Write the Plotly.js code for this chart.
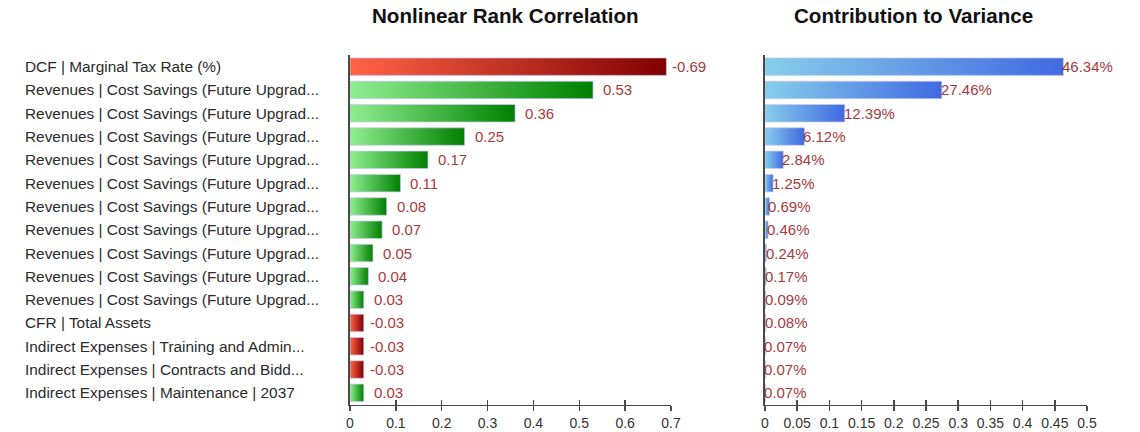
<!DOCTYPE html>
<html>
<head>
<meta charset="utf-8">
<script src="https://cdn.plot.ly/plotly-3.0.1.min.js"></script>
<style>
  html, body { margin: 0; padding: 0; background: #fff; }
  #chart { width: 1140px; height: 432px; }
</style>
</head>
<body>
<div id="chart"></div>
<script>
// ---------- data ----------
const labels = [
  "DCF | Marginal Tax Rate (%)",
  "Revenues | Cost Savings (Future Upgrad...",
  "Revenues | Cost Savings (Future Upgrad...",
  "Revenues | Cost Savings (Future Upgrad...",
  "Revenues | Cost Savings (Future Upgrad...",
  "Revenues | Cost Savings (Future Upgrad...",
  "Revenues | Cost Savings (Future Upgrad...",
  "Revenues | Cost Savings (Future Upgrad...",
  "Revenues | Cost Savings (Future Upgrad...",
  "Revenues | Cost Savings (Future Upgrad...",
  "Revenues | Cost Savings (Future Upgrad...",
  "CFR | Total Assets",
  "Indirect Expenses | Training and Admin...",
  "Indirect Expenses | Contracts and Bidd...",
  "Indirect Expenses | Maintenance | 2037"
];
const rankCorrelation = [-0.69, 0.53, 0.36, 0.25, 0.17, 0.11, 0.08, 0.07, 0.05, 0.04, 0.03, -0.03, -0.03, -0.03, 0.03];
const varianceContribution = [0.4634, 0.2746, 0.1239, 0.0612, 0.0284, 0.0125, 0.0069, 0.0046, 0.0024, 0.0017, 0.0009, 0.0008, 0.0007, 0.0007, 0.0007];

const corrTickVals = [0, 0.1, 0.2, 0.3, 0.4, 0.5, 0.6, 0.7];
const corrTickText = ["0", "0.1", "0.2", "0.3", "0.4", "0.5", "0.6", "0.7"];
const varTickVals = [0, 0.05, 0.1, 0.15, 0.2, 0.25, 0.3, 0.35, 0.4, 0.45, 0.5];
const varTickText = ["0", "0.05", "0.1", "0.15", "0.2", "0.25", "0.3", "0.35", "0.4", "0.45", "0.5"];

const titleLeft = "Nonlinear Rank Correlation";
const titleRight = "Contribution to Variance";

// ---------- styling ----------
const FONT = "Liberation Sans, Arial, sans-serif";
const valueColor = "#a83a3a";
const labelColor = "#2b2b2b";
const axisColor = "#4a4a4a";
const W = 1140, H = 432;

const rowIdx = labels.map((_, i) => i);
const absCorr = rankCorrelation.map(v => Math.abs(v));

const barLine = { color: "rgba(200,200,240,0.9)", width: 0.8 };

const data = [
  {
    type: "bar", orientation: "h",
    x: absCorr, y: rowIdx,
    xaxis: "x", yaxis: "y",
    marker: { color: rankCorrelation.map(v => v < 0 ? "#c0392b" : "#3cb043"), line: barLine },
    hoverinfo: "none"
  },
  {
    type: "bar", orientation: "h",
    x: varianceContribution, y: rowIdx,
    xaxis: "x2", yaxis: "y2",
    marker: { color: "#6a9be6", line: barLine },
    hoverinfo: "none"
  },
  { type: "scatter", x: [], y: [], xaxis: "x3", yaxis: "y", hoverinfo: "none", showlegend: false },
  { type: "scatter", x: [], y: [], xaxis: "x4", yaxis: "y2", hoverinfo: "none", showlegend: false }
];

const xDomL = [350 / W, 671 / W];
const xDomR = [765 / W, 1087 / W];
const yDom = [1 - 404.5 / H, 1 - 55 / H];

const yCommon = {
  domain: yDom, range: [14.5, -0.5], showline: true, linecolor: axisColor, linewidth: 2,
  ticks: "", showticklabels: false, showgrid: false, zeroline: false, fixedrange: true
};
function xCommon(dom, range, tv, tt, anchor) {
  return {
    domain: dom, range: range, anchor: anchor,
    tickmode: "array", tickvals: tv, ticktext: tt,
    ticks: "outside", ticklen: 5, tickwidth: 1.5, tickcolor: axisColor,
    showline: true, linecolor: axisColor, linewidth: 1.5,
    showgrid: false, zeroline: false, fixedrange: true,
    tickfont: { family: FONT, size: 14, color: "#333" }
  };
}
function xOverlay(over, range, tv, anchor) {
  return {
    overlaying: over, anchor: anchor, range: range,
    tickmode: "array", tickvals: tv,
    ticks: "inside", ticklen: 5, tickwidth: 1.5, tickcolor: axisColor,
    showticklabels: false, showline: false, showgrid: false, zeroline: false, fixedrange: true
  };
}

const annotations = [];
// titles
annotations.push({ xref: "paper", yref: "paper", x: 505 / W, y: 1 - 16 / H, xanchor: "center", yanchor: "middle",
  text: "<b>" + titleLeft + "</b>", showarrow: false, font: { family: FONT, size: 20.6, color: "#111" } });
annotations.push({ xref: "paper", yref: "paper", x: 913 / W, y: 1 - 16 / H, xanchor: "center", yanchor: "middle",
  text: "<b>" + titleRight + "</b>", showarrow: false, font: { family: FONT, size: 20.6, color: "#111" } });
// category labels (left aligned)
labels.forEach((t, i) => annotations.push({
  xref: "paper", yref: "y", x: 23 / W, y: i, xanchor: "left", yanchor: "middle",
  text: t, showarrow: false, font: { family: FONT, size: 15.4, color: labelColor }
}));
// value labels left
rankCorrelation.forEach((v, i) => annotations.push({
  xref: "x", yref: "y", x: Math.abs(v), y: i, xanchor: "left", yanchor: "middle",
  xshift: v < 0 ? 4 : 8, text: v.toFixed(2), showarrow: false,
  font: { family: FONT, size: 15, color: valueColor }
}));
// value labels right
varianceContribution.forEach((v, i) => annotations.push({
  xref: "x2", yref: "y2", x: v, y: i, xanchor: "left", yanchor: "middle",
  xshift: -3, text: (v * 100).toFixed(2) + "%", showarrow: false,
  font: { family: FONT, size: 15, color: valueColor }
}));

const layout = {
  width: W, height: H,
  margin: { l: 0, r: 0, t: 0, b: 0 },
  paper_bgcolor: "#fff", plot_bgcolor: "#fff",
  showlegend: false, bargap: 0.25,
  font: { family: FONT },
  xaxis: xCommon(xDomL, [0, 0.7], corrTickVals, corrTickText, "y"),
  xaxis2: xCommon(xDomR, [0, 0.5], varTickVals, varTickText, "y2"),
  xaxis3: xOverlay("x", [0, 0.7], corrTickVals, "y"),
  xaxis4: xOverlay("x2", [0, 0.5], varTickVals, "y2"),
  yaxis: Object.assign({ anchor: "x" }, yCommon),
  yaxis2: Object.assign({ anchor: "x2" }, yCommon),
  annotations: annotations
};

const gd = document.getElementById("chart");
Plotly.newPlot(gd, data, layout, { staticPlot: true, displayModeBar: false }).then(applyGradients);

function applyGradients() {
  const NS = "http://www.w3.org/2000/svg";
  const svg = gd.querySelector("svg.main-svg");
  let defs = svg.querySelector("defs");
  if (!defs) { defs = document.createElementNS(NS, "defs"); svg.insertBefore(defs, svg.firstChild); }
  function grad(id, c1, c2) {
    const g = document.createElementNS(NS, "linearGradient");
    g.setAttribute("id", id);
    g.setAttribute("x1", "0"); g.setAttribute("y1", "0");
    g.setAttribute("x2", "1"); g.setAttribute("y2", "0");
    [[0, c1], [1, c2]].forEach(([o, c]) => {
      const s = document.createElementNS(NS, "stop");
      s.setAttribute("offset", o);
      s.setAttribute("stop-color", c);
      g.appendChild(s);
    });
    defs.appendChild(g);
  }
  grad("gRed", "#ff6347", "#800000");
  grad("gGreen", "#90ee90", "#008000");
  grad("gBlue", "#87ceeb", "#4169e1");
  const left = gd.querySelectorAll(".subplot.xy .barlayer .point path");
  left.forEach((p, i) => { p.style.fill = rankCorrelation[i] < 0 ? "url(#gRed)" : "url(#gGreen)"; });
  const right = gd.querySelectorAll(".subplot.x2y2 .barlayer .point path");
  right.forEach(p => { p.style.fill = "url(#gBlue)"; });
}
</script>
</body>
</html>
